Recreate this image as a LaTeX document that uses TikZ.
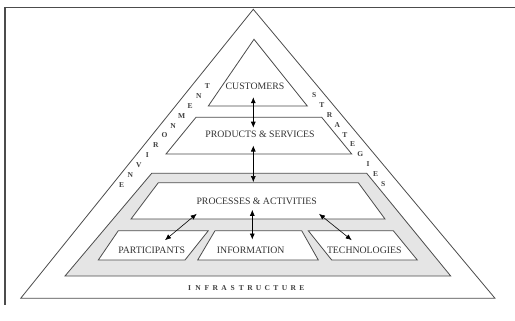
\documentclass[tikz,border=0pt]{standalone}
\usepackage{fontspec}
\setmainfont{Liberation Serif}
\usetikzlibrary{arrows.meta}
\begin{document}
\begin{tikzpicture}[x=1pt, y=-1pt, >={Latex[length=6pt,width=5pt]},
  lbl/.style={font=\fontsize{9.8}{10}\selectfont, text=black!80, inner sep=1pt},
  side/.style={font=\fontsize{7.5}{8}\selectfont\bfseries, text=black!75, inner sep=0pt},
  part/.style={draw=black!70, line width=0.8pt, fill=white},
  link/.style={<->, line width=0.6pt}]
\useasboundingbox (0,0) rectangle (515,321);
% Rahmen
\draw[black!70, line width=1.3pt] (515,7.5) -- (5,7.5) -- (5,305);

% Pyramide
\draw[part] (253.3,9.3) -- (495,298.3) -- (20.7,298.3) -- cycle;
\draw[part] (254,39.3) -- (307.3,106) -- (208.3,106) -- cycle;
\draw[part] (196,117.3) -- (321.7,117.3) -- (351.7,154) -- (166,154) -- cycle;
\draw[part, fill=black!10] (151.7,173.3) -- (366.7,173.3) -- (450.7,276) -- (65,276) -- cycle;
\draw[part] (158.3,182.7) -- (358.3,182.7) -- (385,219) -- (131,219) -- cycle;
\draw[part] (118.3,230.7) -- (208.3,230.7) -- (185,260) -- (98.3,260) -- cycle;
\draw[part] (215,230.7) -- (301.7,230.7) -- (318.3,260) -- (197.7,260) -- cycle;
\draw[part] (308.3,230.7) -- (393.3,230.7) -- (417.3,260) -- (331.7,260) -- cycle;

% Texte
\node[lbl] (cust) at (255,86) {CUSTOMERS};
\node[lbl] (prod) at (260,134) {PRODUCTS \& SERVICES};
\node[lbl] (proc) at (256.7,201.3) {PROCESSES \& ACTIVITIES};
\node[lbl] (part) at (151.7,250) {PARTICIPANTS};
\node[lbl] (info) at (250.7,250) {INFORMATION};
\node[lbl] (tech) at (364.3,250) {TECHNOLOGIES};

% Seiten
\foreach \l [count=\i] in {E,N,V,I,R,O,N,M,E,N,T}
  \node[side] (env\i) at ({121.7+8.56*(\i-1)},{185-9.9*(\i-1)}) {\l};
\foreach \l [count=\i] in {S,T,R,A,T,E,G,I,E,S}
  \node[side] (str\i) at ({314.3+7.67*(\i-1)},{95+9.89*(\i-1)}) {\l};
\foreach \l [count=\i] in {I,N,F,R,A,S,T,R,U,C,T,U,R,E}
  \node[side] (inf\i) at ({189.5+8.65*(\i-1)},288) {\l};

% Pfeile
\draw[link] ([xshift=-1.7pt, yshift=-6.75pt]cust.south) -- ([xshift=-6.7pt, yshift=1.75pt]prod.north);
\draw[link] ([xshift=-6.7pt, yshift=-7pt]prod.south) -- ([xshift=-3.4pt, yshift=14.65pt]proc.north);
\draw[link] ([xshift=-4.4pt, yshift=-4pt]proc.south) -- ([xshift=1.6pt, yshift=6pt]info.north);
\draw[link] ([xshift=-60pt, yshift=-8pt]proc.south) -- ([xshift=13.3pt, yshift=5.35pt]part.north);
\draw[link] ([xshift=62.3pt, yshift=-8pt]proc.south) -- ([xshift=-12.6pt, yshift=5.35pt]tech.north);
\end{tikzpicture}
\end{document}
